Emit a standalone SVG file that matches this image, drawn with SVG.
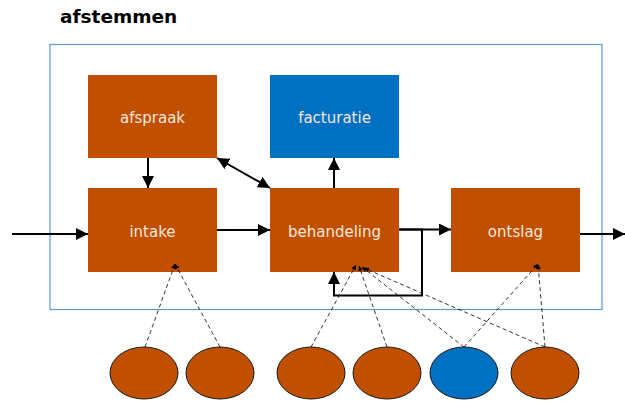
<svg xmlns="http://www.w3.org/2000/svg" width="625" height="401" viewBox="0 0 625 401">
<defs>
<marker id="ah" markerWidth="12" markerHeight="12" viewBox="0 0 12 12" refX="12" refY="6" orient="auto-start-reverse" markerUnits="userSpaceOnUse">
<path d="M0,0 L12,6 L0,12 Z" fill="#000"/>
</marker>
<marker id="sh" markerWidth="5" markerHeight="5" viewBox="0 0 6 6" refX="6" refY="3" orient="auto" markerUnits="userSpaceOnUse">
<path d="M0,0 L6,3 L0,6 Z" fill="#000"/>
</marker>
</defs>
<style>
.box{fill:#C04F00}
.blue{fill:#0070C0}
.lbl{font-family:"DejaVu Sans",Verdana,sans-serif;font-size:15px;fill:#F5E6DC;text-anchor:middle}
.ell{fill:#C04F00;stroke:#1a1a1a;stroke-width:1}
.ellb{fill:#0070C0;stroke:#1a1a1a;stroke-width:1}
.con{fill:none;stroke:#000;stroke-width:2}
.dash{fill:none;stroke:#000;stroke-width:0.8;stroke-dasharray:4,3}
</style>
<rect width="625" height="401" fill="#fff"/>
<text x="60" y="23" font-family="DejaVu Sans,Verdana,sans-serif" font-weight="bold" font-size="18.5" fill="#000">afstemmen</text>
<rect id="container" x="50" y="44.5" width="552" height="265" fill="none" stroke="#5B9BD5" stroke-width="1.2"/>
<g id="afspraak"><rect class="box" x="88" y="75" width="129" height="83"/><text class="lbl" x="152.5" y="122.5">afspraak</text></g>
<g id="facturatie"><rect class="blue" x="270" y="75" width="129" height="83"/><text class="lbl" x="334.5" y="122.5">facturatie</text></g>
<g id="intake"><rect class="box" x="88" y="188" width="129" height="84"/><text class="lbl" x="152.5" y="236.5">intake</text></g>
<g id="behandeling"><rect class="box" x="270" y="188" width="129" height="84"/><text class="lbl" x="334.5" y="236.5">behandeling</text></g>
<g id="ontslag"><rect class="box" x="451" y="188" width="129" height="84"/><text class="lbl" x="515.5" y="236.5">ontslag</text></g>
<g id="e1"><ellipse class="ell" cx="144" cy="373" rx="34" ry="26"/></g>
<g id="e2"><ellipse class="ell" cx="220" cy="373" rx="34" ry="26"/></g>
<g id="e3"><ellipse class="ell" cx="311" cy="373" rx="34" ry="26"/></g>
<g id="e4"><ellipse class="ell" cx="387" cy="373" rx="34" ry="26"/></g>
<g id="e5"><ellipse class="ellb" cx="464" cy="373" rx="34" ry="26"/></g>
<g id="e6"><ellipse class="ell" cx="545" cy="373" rx="34" ry="26"/></g>
<g id="connectors">
<line class="con" x1="12" y1="234" x2="88" y2="234" marker-end="url(#ah)"/>
<line class="con" x1="217" y1="230" x2="270" y2="230" marker-end="url(#ah)"/>
<line class="con" x1="399" y1="229.5" x2="451" y2="229.5" marker-end="url(#ah)"/>
<line class="con" x1="580" y1="234" x2="625" y2="234" marker-end="url(#ah)"/>
<line class="con" x1="148" y1="158" x2="148" y2="188" marker-end="url(#ah)"/>
<line class="con" x1="334" y1="188" x2="334" y2="158" marker-end="url(#ah)"/>
<line class="con" x1="217" y1="158" x2="270" y2="188" marker-start="url(#ah)" marker-end="url(#ah)"/>
<polyline class="con" points="399,229.5 422,229.5 422,295.5 334,295.5 334,272" marker-end="url(#ah)"/>
<line class="dash" x1="145" y1="347" x2="175" y2="264" marker-end="url(#sh)"/>
<line class="dash" x1="220" y1="347" x2="175" y2="264" marker-end="url(#sh)"/>
<line class="dash" x1="311" y1="347" x2="356" y2="265" marker-end="url(#sh)"/>
<line class="dash" x1="387" y1="347" x2="359" y2="266" marker-end="url(#sh)"/>
<line class="dash" x1="464" y1="347" x2="362" y2="267" marker-end="url(#sh)"/>
<line class="dash" x1="545" y1="347" x2="364" y2="268" marker-end="url(#sh)"/>
<line class="dash" x1="464" y1="347" x2="538" y2="264" marker-end="url(#sh)"/>
<line class="dash" x1="545" y1="347" x2="538" y2="264" marker-end="url(#sh)"/>
</g>
</svg>
